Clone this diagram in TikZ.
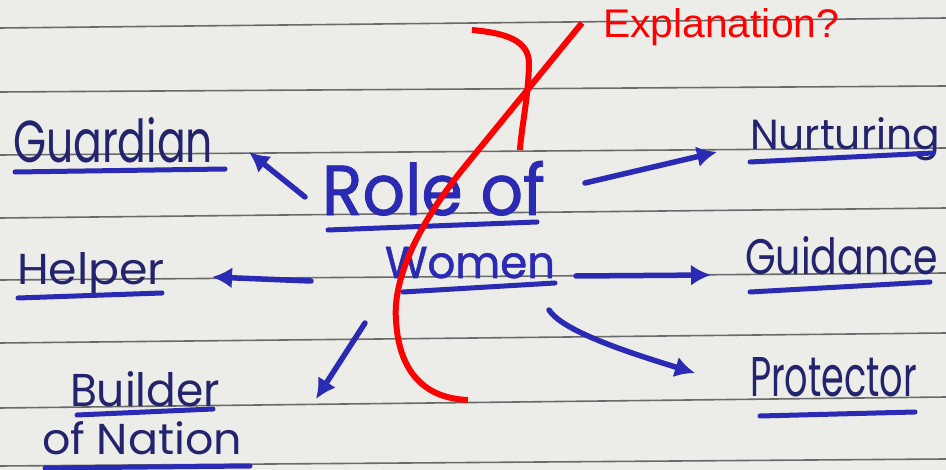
\documentclass[tikz,border=0pt]{standalone}
\usepackage{fontspec}
\usetikzlibrary{arrows.meta}
\newfontfamily\handfont{Poppins}
\newfontfamily\titlefont{Poppins}[FakeBold=1.2]
\newfontfamily\redfont{Liberation Sans}
\newcommand{\handtxt}[3]{\resizebox{#1pt}{#2pt}{\handfont #3}}
\definecolor{paper}{HTML}{ECECE8}
\definecolor{rule}{HTML}{6A6A6A}
\definecolor{ink}{HTML}{23246E}
\definecolor{pen}{HTML}{2A2AB4}
\definecolor{mark}{HTML}{FF0000}
\tikzset{
  label/.style={anchor=base west, inner sep=0pt, outer sep=0pt, text=ink},
  title/.style={anchor=base west, inner sep=0pt, outer sep=0pt, text=pen},
  uline/.style={draw=pen, line width=5pt, line cap=round},
  ruled/.style={draw=rule, line width=1.6pt},
  arr/.style={draw=pen, line width=5.5pt, line cap=round, -{Latex[length=20pt,width=21pt]}},
  redpen/.style={draw=mark, line width=6pt, line cap=butt}
}
\begin{document}
\begin{tikzpicture}[x=1pt,y=-1pt]
\fill[paper] (0,0) rectangle (946,470);
\useasboundingbox (0,0) rectangle (946,470);
% ruled lines
\foreach \l/\r in {28/18, 92/86, 155/148, 218/208, 280/273, 343/333, 408/397, 466/459}
  \draw[ruled] (0,\l) -- (946,\r);

% labels
\node[label] (guardian) at (13,163) {\handtxt{200}{45}{Guardian}};
\node[label] (helper) at (17,285) {\handtxt{148}{32}{Helper}};
\node[label] (builder) at (70,407) {\handtxt{150}{35}{Builder}};
\node[label] (nation) at (42,455) {\handtxt{200}{33}{of Nation}};
\node[label] (nurturing) at (750,150) {\handtxt{190}{32}{Nurturing}};
\node[label] (guidance) at (745,275) {\handtxt{193}{38}{Guidance}};
\node[label] (protector) at (750,397) {\handtxt{167}{39}{Protector}};
\node[title] (role) at (322,215) {\resizebox{223pt}{54pt}{\titlefont Role of}};
\node[title] (women) at (385,278) {\resizebox{170pt}{31pt}{\titlefont Women}};

% underlines
\draw[uline] (15,172) -- (225,169);
\draw[uline] (18,298) -- (162,293);
\draw[uline] (77,415) -- (213,409);
\draw[uline] (45,468) -- (250,466);
\draw[uline] (750,162) -- (933,153);
\draw[uline] (750,292) -- (930,282);
\draw[uline] (760,416) -- (915,412);
\draw[uline] (328,230) -- (537,222);
\draw[uline] (403,292) -- (555,283);

% arrow ends
\coordinate (tGuard) at (305,197); \coordinate (hGuard) at (249,152);
\coordinate (tNurt) at (585,183);  \coordinate (hNurt) at (717,152);
\coordinate (tHelp) at (311,281);  \coordinate (hHelp) at (212,277);
\coordinate (tGuid) at (576,276);  \coordinate (hGuid) at (711,275);
\coordinate (tBuild) at (365,323); \coordinate (hBuild) at (316,399);
\coordinate (tProt) at (549,310);  \coordinate (hProt) at (695,373);

\draw[arr] (tGuard) -- (hGuard);
\draw[arr] (tNurt) -- (hNurt);
\draw[arr] (tHelp) -- (hHelp);
\draw[arr] (tGuid) -- (hGuid);
\draw[arr] (tBuild) -- (hBuild);
\draw[arr] (tProt) .. controls (562,330) and (620,350) .. (hProt);

% red annotation
\node[anchor=base west, inner sep=0pt, text=mark] (expl) at (603,38)
  {\scalebox{1.02}[1]{\redfont\fontsize{40}{44}\selectfont Explanation?}};
\draw[redpen] (582,23) -- (462,170) .. controls (430,210) and (392,270) .. (396,320)
  .. controls (398,360) and (415,398) .. (468,400);
\draw[redpen] (472,30) .. controls (505,33) and (530,40) .. (529,65)
  .. controls (528,100) and (521,130) .. (520,150);
\end{tikzpicture}
\end{document}
